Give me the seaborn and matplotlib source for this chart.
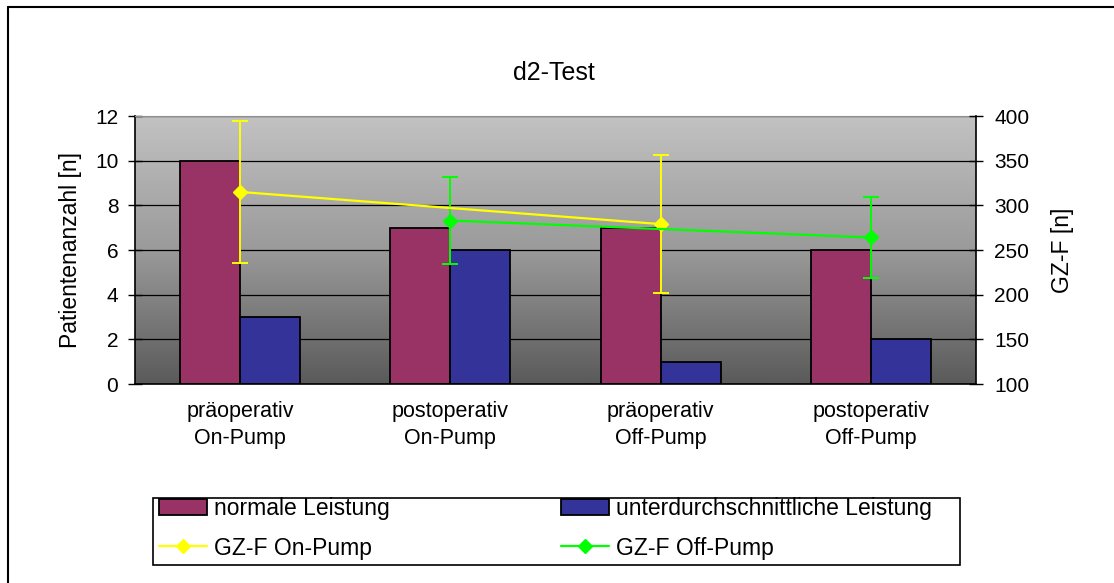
import numpy as np
import pandas as pd
import matplotlib
matplotlib.use("Agg")
import matplotlib.pyplot as plt
from matplotlib.lines import Line2D
from matplotlib.patches import Rectangle
from matplotlib.colors import LinearSegmentedColormap
import seaborn as sns

# Data
phases = ["präoperativ\nOn-Pump", "postoperativ\nOn-Pump",
          "präoperativ\nOff-Pump", "postoperativ\nOff-Pump"]
normal = [10, 7, 7, 6]
below = [3, 6, 1, 2]
gz_on_mean = [315, np.nan, 279, np.nan]
gz_on_err = [79, np.nan, 77, np.nan]
gz_off_mean = [np.nan, 283, np.nan, 264]
gz_off_err = [np.nan, 49, np.nan, 45]
series_names = ["normale Leistung", "unterdurchschnittliche Leistung"]

df = pd.DataFrame({
    "phase": phases * 2,
    "anzahl": normal + below,
    "leistung": [series_names[0]] * 4 + [series_names[1]] * 4,
})

sns.set_style("white")
plt.rcParams["font.family"] = ["Liberation Sans", "DejaVu Sans"]
plt.rcParams.update({"text.color": "black", "axes.labelcolor": "black",
                     "xtick.color": "black", "ytick.color": "black"})

fig = plt.figure(figsize=(11.14, 5.83), dpi=100)
ax = fig.add_axes([135 / 1114, 1 - 384 / 583, 841 / 1114, 268 / 583])

# gradient plot area
cmap = LinearSegmentedColormap.from_list("bg", ["#5a5a5a", "#9a9a9a", "#c2c2c2"])
grad = np.linspace(0, 1, 256).reshape(-1, 1)
ax.imshow(grad, extent=[0, 1, 0, 1], transform=ax.transAxes, aspect="auto",
          cmap=cmap, origin="lower", zorder=0)

sns.barplot(data=df, x="phase", y="anzahl", hue="leistung",
            palette=["#993366", "#333399"], width=0.57, gap=0,
            edgecolor="black", linewidth=1.3, saturation=1, ax=ax, zorder=2)
ax.get_legend().remove()

ax.set_xlim(-0.5, 3.5)
ax.set_ylim(0, 12)
ax.set_yticks(range(0, 13, 2))
ax.yaxis.grid(True, color="black", lw=0.9, zorder=1)
ax.set_xlabel("")
ax.set_ylabel("Patientenanzahl [n]", fontsize=16.5, labelpad=9)
ax.set_xticks(range(4))
ax.set_xticklabels(phases, fontsize=15.5, linespacing=1.4)
ax.set_xticks(np.arange(-0.5, 4, 1), minor=True)
ax.tick_params(axis="x", which="major", length=0, pad=12)
ax.tick_params(axis="x", which="minor", length=10, direction="inout", width=1)
ax.tick_params(axis="y", length=10, direction="inout", width=1,
               labelsize=15, pad=7, left=True)
for s in ["left", "bottom"]:
    ax.spines[s].set_color("black")
    ax.spines[s].set_linewidth(1.2)
ax.spines["top"].set_color("#909090")
ax.spines["right"].set_visible(False)

# secondary axis
ax2 = ax.twinx()
ax2.set_ylim(100, 400)
ax2.set_yticks(range(100, 401, 50))
x = np.arange(len(phases))
for mean, err, col in [(gz_on_mean, gz_on_err, "#ffff00"),
                       (gz_off_mean, gz_off_err, "#00ff00")]:
    m = ~np.isnan(np.array(mean, dtype=float))
    ax2.errorbar(x[m], np.array(mean)[m], yerr=np.array(err)[m], color=col,
                 marker="D", markersize=7, lw=1.6, elinewidth=1.4,
                 capsize=6, capthick=1.4)
ax2.set_ylabel("GZ-F [n]", fontsize=16.5, labelpad=16)
ax2.tick_params(axis="y", length=10, direction="inout", width=1,
                labelsize=15, pad=8, right=True)
for s in ["left", "bottom", "top"]:
    ax2.spines[s].set_visible(False)
ax2.spines["right"].set_color("black")
ax2.spines["right"].set_linewidth(1.2)

fig.text(554 / 1114, 1 - 73 / 583, "d2-Test", ha="center", va="center", fontsize=18)

# legend
bar_h = ax.containers
line_h = [c.lines[0] for c in ax2.containers]
leg_kw = dict(loc="upper left", frameon=False, borderpad=0, borderaxespad=0,
              fontsize=16.5, handlelength=2.1, handletextpad=0.3, labelspacing=0.72)
fig.legend([bar_h[0], line_h[0]], ["normale Leistung", "GZ-F On-Pump"],
           bbox_to_anchor=(159 / 1114, 1 - 497 / 583), **leg_kw)
fig.legend([bar_h[1], line_h[1]], ["unterdurchschnittliche Leistung", "GZ-F Off-Pump"],
           bbox_to_anchor=(561 / 1114, 1 - 497 / 583), **leg_kw)
fig.add_artist(Rectangle((153 / 1114, 1 - 565 / 583), 807 / 1114, 67 / 583,
                         transform=fig.transFigure, fill=False, ec="black", lw=1.2))

# chart border (only top and left visible)
fig.add_artist(Line2D([8 / 1114, 1], [1 - 7 / 583] * 2, transform=fig.transFigure,
                      color="black", lw=1.5))
fig.add_artist(Line2D([8 / 1114] * 2, [0, 1 - 7 / 583], transform=fig.transFigure,
                      color="black", lw=1.5))

fig.savefig("out.png", dpi=100, facecolor="white")
